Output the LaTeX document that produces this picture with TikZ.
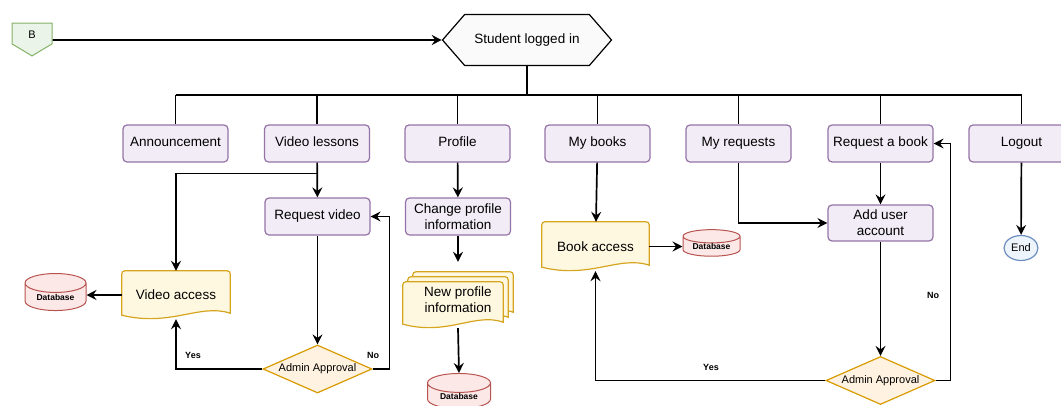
\documentclass[tikz,border=0pt]{standalone}
\usepackage{fontspec}
\setmainfont{Liberation Sans}
\usetikzlibrary{shapes.geometric,shapes.symbols,arrows.meta,calc,backgrounds}

\definecolor{boxfill}{HTML}{F1ECF6}
\definecolor{boxline}{HTML}{9673A6}
\definecolor{docfill}{HTML}{FFF8E1}
\definecolor{docline}{HTML}{D6A520}
\definecolor{dbfill}{HTML}{FCE8E7}
\definecolor{dbline}{HTML}{B85450}
\definecolor{decfill}{HTML}{FFF2E0}
\definecolor{decline}{HTML}{D79B00}
\definecolor{endfill}{HTML}{EEF4FC}
\definecolor{endline}{HTML}{6C8EBF}
\definecolor{pagefill}{HTML}{EAF4E9}
\definecolor{pageline}{HTML}{82B366}

% paper sheet with a wavy lower edge, from its north west to its south east corner
\newcommand{\paper}[2]{%
	\draw[docpaper] let \p1=(#1), \p2=(#2) in
	[rounded corners=3pt] (\x1,{\y2+4pt}) -- (\x1,\y1) -- (\x2,\y1) [sharp corners] -- (\x2,{\y2+6pt})
	.. controls ({0.28*\x1+0.72*\x2},{\y2+16pt}) and ({0.55*\x1+0.45*\x2},{\y2-8pt}) .. (\x1,{\y2+4pt}) -- cycle;}

\begin{document}
\begin{tikzpicture}[x=1pt, y=-1pt,
	font=\fontsize{13.5}{16}\selectfont,
	>={Stealth[length=10pt,width=10pt,inset=3.5pt]},
	wire/.style={line width=1.7pt},
	flow/.style={line width=1.7pt, ->},
	menubox/.style={draw=boxline, fill=boxfill, line width=1.2pt, rounded corners=4pt, minimum width=105pt, minimum height=37pt, align=center, inner sep=1pt},
	menuline/.style={menubox, text height=9.5pt, text depth=4.5pt},
	docnode/.style={minimum width=108pt, minimum height=48pt, align=center, inner sep=1pt},
	docpaper/.style={draw=docline, fill=docfill, line width=1.2pt},
	dbase/.style={cylinder, shape border rotate=90, aspect=0.5, draw=dbline, fill=dbfill, line width=1pt, inner sep=0pt, font=\fontsize{8.5}{10}\selectfont\bfseries},
	approve/.style={diamond, aspect=2.3, draw=decline, fill=decfill, line width=1.2pt, minimum width=109pt, minimum height=48pt, inner sep=0pt, font=\fontsize{11}{13}\selectfont},
	yesno/.style={inner sep=0pt, font=\fontsize{9}{11}\selectfont\bfseries}]

	\useasboundingbox (0,0) rectangle (1061,405);

	\node[signal, signal to=south, signal from=nowhere, signal pointer angle=118, draw=pageline, fill=pagefill, line width=1pt, minimum width=40pt, minimum height=23pt, inner sep=0pt, font=\fontsize{11}{13}\selectfont] (conB) at (32,33.5) {\raisebox{-5pt}[0pt][0pt]{B}};
	\node[signal, signal to=east and west, signal pointer angle=98, draw, fill=black!2, line width=1.2pt, minimum width=169pt, minimum height=51pt] (slog) at (527,40) {Student logged in};

	\foreach \nm/\lbl/\xx in {ann/Announcement/175.5, vl/Video lessons/317, pro/Profile/457.5, mb/My books/597.5, myr/My requests/738.5, rab/Request a book/880.5, lo/Logout/1021.5}
	\node[menuline] (\nm) at (\xx,143.5) {\lbl};

	\node[menuline] (rv) at (317.5,216.5) {Request video};
	\node[menubox] (cpi) at (458,216.5) {Change profile\\information};
	\node[menubox, minimum height=36pt] (aua) at (880.5,223) {Add user\\account};

	\node[docnode] (va) at (176,295) {Video access};
	\node[docnode, minimum width=107pt, minimum height=49pt] (ba) at (595.5,246.5) {Book access};
	\node[docnode, minimum width=110pt, minimum height=56pt] (npi) at (458,300) {New profile\\information};

	\node[dbase, minimum width=61pt, minimum height=37pt] (db1) at (55.5,297) {Database};
	\node[dbase, minimum width=57pt, minimum height=19pt, aspect=0.35] (db2) at (711.5,246.5) {Database};
	\node[dbase, minimum width=63pt, minimum height=34pt] (db3) at (459,396) {Database};

	\node[approve] (ad1) at (317.5,369) {Admin Approval};
	\node[approve] (ad2) at (880.5,380.5) {Admin Approval};

	\node[ellipse, draw=endline, fill=endfill, line width=1.2pt, minimum width=34pt, minimum height=25pt, inner sep=0pt, font=\fontsize{11}{13}\selectfont] (endn) at (1021,248) {End};

	\begin{scope}[on background layer]
		\paper{va.north west}{va.south east}
		\paper{ba.north west}{ba.south east}
		\paper{$(npi.north west)+(10,0)$}{$(npi.south east)+(0,-10)$}
		\paper{$(npi.north west)+(5,5)$}{$(npi.south east)+(-5,-5)$}
		\paper{$(npi.north west)+(0,10)$}{$(npi.south east)+(-10,0)$}
	\end{scope}

	\coordinate (busL) at (176,95);
	\coordinate (vsplit) at ($(vl.south)+(0,11)$);
	\coordinate (npiback) at ([xshift=10pt,yshift=10pt]npi.north);

	\draw[flow] (conB.east |- slog) -- (slog);
	\draw[wire] (slog.south) -- (slog.south |- busL);
	\draw[wire] (ann.north |- busL) -- (lo.north |- busL);
	\foreach \nm in {ann, vl, pro, mb, myr, rab, lo}
	\draw[wire] (\nm.north) -- (\nm.north |- busL);

	\draw[flow] (vl) -- (rv);
	\draw[flow] (vsplit) -| (va.north);
	\draw[flow] (rv) -- (ad1);
	\draw[flow] (ad1.west) -| (va.south);
	\draw[flow] (ad1.east) -- ++(17,0) |- (rv.east);
	\draw[flow] (va.west) -- (db1.east |- va.west);

	\draw[flow] (pro) -- (cpi);
	\draw[flow] (cpi.south) -- (cpi.south |- npiback);
	\draw[flow] (npi.south) -- (db3.north);

	\draw[flow] (mb) -- (ba);
	\draw[flow] (ba.east) -- (db2.west);
	\draw[flow] (ad2.west) -| (ba.south);
	\draw[flow] (ad2.east) -- ++(15,0) |- (rab.east);

	\draw[flow] (myr.south) |- (aua.west);
	\draw[flow] (rab) -- (aua);
	\draw[flow] (aua) -- (ad2);
	\draw[flow] (lo) -- (endn);

	\node[yesno] (yes1) at (193,355) {Yes};
	\node[yesno] (no1) at (373,355) {No};
	\node[yesno] (yes2) at (711,367) {Yes};
	\node[yesno] (no2) at (933,295) {No};
\end{tikzpicture}
\end{document}
